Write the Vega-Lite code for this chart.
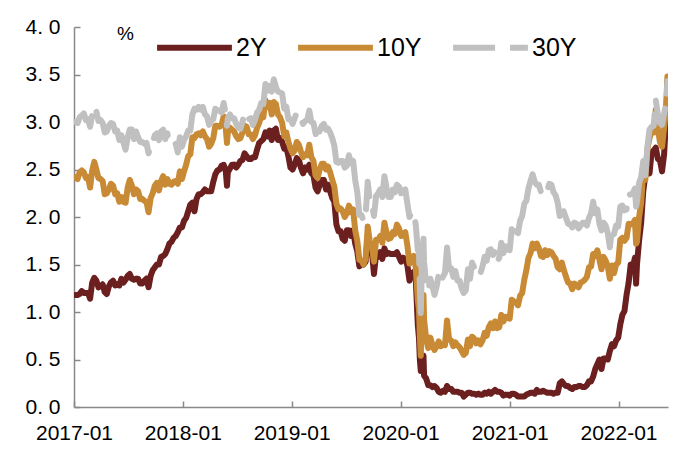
{
"$schema": "https://vega.github.io/schema/vega-lite/v6.json",
"width": 594, "height": 380,
"autosize": {"type": "none"},
"padding": {"left": 74, "top": 27, "right": 32, "bottom": 55},
"config": {"view": {"stroke": null}, "font": "Liberation Sans"},
"data": {"values": [
{"date":"2017-01-06","2Y":1.18,"10Y":2.42,"30Y":3.00},
{"date":"2017-01-13","2Y":1.18,"10Y":2.40,"30Y":2.99},
{"date":"2017-01-20","2Y":1.19,"10Y":2.47,"30Y":3.05},
{"date":"2017-01-27","2Y":1.22,"10Y":2.49,"30Y":3.07},
{"date":"2017-02-03","2Y":1.20,"10Y":2.47,"30Y":3.09},
{"date":"2017-02-10","2Y":1.20,"10Y":2.41,"30Y":3.02},
{"date":"2017-02-17","2Y":1.20,"10Y":2.42,"30Y":3.03},
{"date":"2017-02-24","2Y":1.14,"10Y":2.31,"30Y":2.95},
{"date":"2017-03-03","2Y":1.31,"10Y":2.49,"30Y":3.07},
{"date":"2017-03-10","2Y":1.36,"10Y":2.58,"30Y":3.16},
{"date":"2017-03-17","2Y":1.33,"10Y":2.50,"30Y":3.11},
{"date":"2017-03-24","2Y":1.26,"10Y":2.41,"30Y":3.01},
{"date":"2017-03-31","2Y":1.27,"10Y":2.40,"30Y":3.02},
{"date":"2017-04-07","2Y":1.29,"10Y":2.38,"30Y":2.99},
{"date":"2017-04-14","2Y":1.21,"10Y":2.24,"30Y":2.89},
{"date":"2017-04-21","2Y":1.19,"10Y":2.25,"30Y":2.90},
{"date":"2017-04-28","2Y":1.27,"10Y":2.29,"30Y":2.96},
{"date":"2017-05-05","2Y":1.31,"10Y":2.35,"30Y":2.99},
{"date":"2017-05-12","2Y":1.33,"10Y":2.33,"30Y":2.98},
{"date":"2017-05-19","2Y":1.28,"10Y":2.24,"30Y":2.90},
{"date":"2017-05-26","2Y":1.29,"10Y":2.25,"30Y":2.91},
{"date":"2017-06-02","2Y":1.28,"10Y":2.16,"30Y":2.81},
{"date":"2017-06-09","2Y":1.35,"10Y":2.21,"30Y":2.86},
{"date":"2017-06-16","2Y":1.31,"10Y":2.16,"30Y":2.78},
{"date":"2017-06-23","2Y":1.34,"10Y":2.15,"30Y":2.71},
{"date":"2017-06-30","2Y":1.38,"10Y":2.31,"30Y":2.84},
{"date":"2017-07-07","2Y":1.40,"10Y":2.39,"30Y":2.92},
{"date":"2017-07-14","2Y":1.35,"10Y":2.33,"30Y":2.92},
{"date":"2017-07-21","2Y":1.34,"10Y":2.24,"30Y":2.82},
{"date":"2017-07-28","2Y":1.35,"10Y":2.29,"30Y":2.90},
{"date":"2017-08-04","2Y":1.35,"10Y":2.27,"30Y":2.84},
{"date":"2017-08-11","2Y":1.30,"10Y":2.19,"30Y":2.79},
{"date":"2017-08-18","2Y":1.30,"10Y":2.19,"30Y":2.79},
{"date":"2017-08-25","2Y":1.33,"10Y":2.17,"30Y":2.77},
{"date":"2017-09-01","2Y":1.35,"10Y":2.16,"30Y":2.78},
{"date":"2017-09-08","2Y":1.26,"10Y":2.05,"30Y":2.67},
{"date":"2017-09-15","2Y":1.38,"10Y":2.20,"30Y":2.77},
{"date":"2017-09-22","2Y":1.44,"10Y":2.25,"30Y":2.79},
{"date":"2017-09-29","2Y":1.47,"10Y":2.33,"30Y":2.86},
{"date":"2017-10-06","2Y":1.50,"10Y":2.36,"30Y":2.88},
{"date":"2017-10-13","2Y":1.50,"10Y":2.28,"30Y":2.81},
{"date":"2017-10-20","2Y":1.58,"10Y":2.38,"30Y":2.90},
{"date":"2017-10-27","2Y":1.59,"10Y":2.43,"30Y":2.92},
{"date":"2017-11-03","2Y":1.61,"10Y":2.34,"30Y":2.82},
{"date":"2017-11-10","2Y":1.66,"10Y":2.40,"30Y":2.88},
{"date":"2017-11-17","2Y":1.72,"10Y":2.35,"30Y":2.78},
{"date":"2017-11-24","2Y":1.74,"10Y":2.34,"30Y":2.76},
{"date":"2017-12-01","2Y":1.78,"10Y":2.37,"30Y":2.76},
{"date":"2017-12-08","2Y":1.80,"10Y":2.38,"30Y":2.77},
{"date":"2017-12-15","2Y":1.84,"10Y":2.35,"30Y":2.68},
{"date":"2017-12-22","2Y":1.89,"10Y":2.48,"30Y":2.84},
{"date":"2017-12-29","2Y":1.89,"10Y":2.40,"30Y":2.74},
{"date":"2018-01-05","2Y":1.96,"10Y":2.48,"30Y":2.81},
{"date":"2018-01-12","2Y":1.99,"10Y":2.55,"30Y":2.85},
{"date":"2018-01-19","2Y":2.06,"10Y":2.64,"30Y":2.91},
{"date":"2018-01-26","2Y":2.13,"10Y":2.66,"30Y":2.91},
{"date":"2018-02-02","2Y":2.15,"10Y":2.84,"30Y":3.08},
{"date":"2018-02-09","2Y":2.06,"10Y":2.83,"30Y":3.14},
{"date":"2018-02-16","2Y":2.19,"10Y":2.87,"30Y":3.13},
{"date":"2018-02-23","2Y":2.24,"10Y":2.88,"30Y":3.16},
{"date":"2018-03-02","2Y":2.24,"10Y":2.86,"30Y":3.13},
{"date":"2018-03-09","2Y":2.26,"10Y":2.90,"30Y":3.16},
{"date":"2018-03-16","2Y":2.29,"10Y":2.85,"30Y":3.08},
{"date":"2018-03-23","2Y":2.27,"10Y":2.82,"30Y":3.06},
{"date":"2018-03-30","2Y":2.27,"10Y":2.74,"30Y":2.97},
{"date":"2018-04-06","2Y":2.27,"10Y":2.77,"30Y":3.01},
{"date":"2018-04-13","2Y":2.37,"10Y":2.83,"30Y":3.03},
{"date":"2018-04-20","2Y":2.45,"10Y":2.96,"30Y":3.14},
{"date":"2018-04-27","2Y":2.49,"10Y":2.96,"30Y":3.12},
{"date":"2018-05-04","2Y":2.50,"10Y":2.95,"30Y":3.12},
{"date":"2018-05-11","2Y":2.54,"10Y":2.97,"30Y":3.10},
{"date":"2018-05-18","2Y":2.55,"10Y":3.06,"30Y":3.20},
{"date":"2018-05-25","2Y":2.48,"10Y":2.93,"30Y":3.08},
{"date":"2018-05-29","2Y":2.33,"10Y":2.78,"30Y":2.96},
{"date":"2018-06-01","2Y":2.47,"10Y":2.89,"30Y":3.04},
{"date":"2018-06-08","2Y":2.51,"10Y":2.94,"30Y":3.08},
{"date":"2018-06-15","2Y":2.55,"10Y":2.92,"30Y":3.04},
{"date":"2018-06-22","2Y":2.55,"10Y":2.90,"30Y":3.04},
{"date":"2018-06-29","2Y":2.52,"10Y":2.85,"30Y":2.98},
{"date":"2018-07-06","2Y":2.55,"10Y":2.82,"30Y":2.94},
{"date":"2018-07-13","2Y":2.59,"10Y":2.83,"30Y":2.93},
{"date":"2018-07-20","2Y":2.60,"10Y":2.89,"30Y":3.00},
{"date":"2018-07-27","2Y":2.67,"10Y":2.96,"30Y":3.09},
{"date":"2018-08-03","2Y":2.64,"10Y":2.95,"30Y":3.09},
{"date":"2018-08-10","2Y":2.61,"10Y":2.87,"30Y":3.03},
{"date":"2018-08-17","2Y":2.61,"10Y":2.87,"30Y":3.04},
{"date":"2018-08-24","2Y":2.63,"10Y":2.82,"30Y":2.97},
{"date":"2018-08-31","2Y":2.63,"10Y":2.86,"30Y":3.02},
{"date":"2018-09-07","2Y":2.71,"10Y":2.94,"30Y":3.10},
{"date":"2018-09-14","2Y":2.78,"10Y":2.99,"30Y":3.13},
{"date":"2018-09-21","2Y":2.80,"10Y":3.07,"30Y":3.20},
{"date":"2018-09-28","2Y":2.82,"10Y":3.05,"30Y":3.19},
{"date":"2018-10-05","2Y":2.89,"10Y":3.23,"30Y":3.40},
{"date":"2018-10-12","2Y":2.85,"10Y":3.16,"30Y":3.33},
{"date":"2018-10-19","2Y":2.91,"10Y":3.20,"30Y":3.38},
{"date":"2018-10-26","2Y":2.81,"10Y":3.08,"30Y":3.32},
{"date":"2018-11-02","2Y":2.91,"10Y":3.21,"30Y":3.45},
{"date":"2018-11-09","2Y":2.93,"10Y":3.19,"30Y":3.37},
{"date":"2018-11-16","2Y":2.81,"10Y":3.08,"30Y":3.32},
{"date":"2018-11-23","2Y":2.83,"10Y":3.05,"30Y":3.31},
{"date":"2018-11-30","2Y":2.79,"10Y":2.99,"30Y":3.30},
{"date":"2018-12-07","2Y":2.72,"10Y":2.85,"30Y":3.14},
{"date":"2018-12-14","2Y":2.73,"10Y":2.89,"30Y":3.16},
{"date":"2018-12-21","2Y":2.64,"10Y":2.79,"30Y":3.03},
{"date":"2018-12-28","2Y":2.52,"10Y":2.72,"30Y":3.03},
{"date":"2019-01-04","2Y":2.50,"10Y":2.67,"30Y":2.98},
{"date":"2019-01-11","2Y":2.55,"10Y":2.70,"30Y":3.04},
{"date":"2019-01-18","2Y":2.62,"10Y":2.79,"30Y":3.10},
{"date":"2019-01-25","2Y":2.60,"10Y":2.76,"30Y":3.07},
{"date":"2019-02-01","2Y":2.52,"10Y":2.69,"30Y":3.03},
{"date":"2019-02-08","2Y":2.46,"10Y":2.63,"30Y":2.98},
{"date":"2019-02-15","2Y":2.52,"10Y":2.66,"30Y":3.01},
{"date":"2019-02-22","2Y":2.50,"10Y":2.65,"30Y":3.02},
{"date":"2019-03-01","2Y":2.55,"10Y":2.76,"30Y":3.12},
{"date":"2019-03-08","2Y":2.46,"10Y":2.63,"30Y":3.00},
{"date":"2019-03-15","2Y":2.44,"10Y":2.59,"30Y":2.99},
{"date":"2019-03-22","2Y":2.31,"10Y":2.44,"30Y":2.88},
{"date":"2019-03-29","2Y":2.27,"10Y":2.41,"30Y":2.81},
{"date":"2019-04-05","2Y":2.34,"10Y":2.50,"30Y":2.91},
{"date":"2019-04-12","2Y":2.39,"10Y":2.56,"30Y":2.96},
{"date":"2019-04-19","2Y":2.39,"10Y":2.56,"30Y":2.98},
{"date":"2019-04-26","2Y":2.29,"10Y":2.50,"30Y":2.92},
{"date":"2019-05-03","2Y":2.34,"10Y":2.53,"30Y":2.93},
{"date":"2019-05-10","2Y":2.27,"10Y":2.47,"30Y":2.89},
{"date":"2019-05-17","2Y":2.20,"10Y":2.39,"30Y":2.83},
{"date":"2019-05-24","2Y":2.16,"10Y":2.32,"30Y":2.75},
{"date":"2019-05-31","2Y":1.92,"10Y":2.14,"30Y":2.58},
{"date":"2019-06-07","2Y":1.85,"10Y":2.08,"30Y":2.57},
{"date":"2019-06-14","2Y":1.85,"10Y":2.09,"30Y":2.59},
{"date":"2019-06-21","2Y":1.77,"10Y":2.06,"30Y":2.59},
{"date":"2019-06-28","2Y":1.75,"10Y":2.00,"30Y":2.52},
{"date":"2019-07-05","2Y":1.86,"10Y":2.04,"30Y":2.54},
{"date":"2019-07-12","2Y":1.86,"10Y":2.12,"30Y":2.65},
{"date":"2019-07-19","2Y":1.80,"10Y":2.05,"30Y":2.57},
{"date":"2019-07-26","2Y":1.86,"10Y":2.08,"30Y":2.59},
{"date":"2019-08-02","2Y":1.72,"10Y":1.86,"30Y":2.39},
{"date":"2019-08-09","2Y":1.64,"10Y":1.75,"30Y":2.26},
{"date":"2019-08-16","2Y":1.48,"10Y":1.55,"30Y":2.02},
{"date":"2019-08-23","2Y":1.52,"10Y":1.54,"30Y":2.02},
{"date":"2019-08-30","2Y":1.50,"10Y":1.50,"30Y":1.96},
{"date":"2019-09-06","2Y":1.53,"10Y":1.56,"30Y":2.02},
{"date":"2019-09-13","2Y":1.80,"10Y":1.90,"30Y":2.37},
{"date":"2019-09-20","2Y":1.69,"10Y":1.74,"30Y":2.17},
{"date":"2019-09-27","2Y":1.63,"10Y":1.69,"30Y":2.13},
{"date":"2019-10-04","2Y":1.40,"10Y":1.53,"30Y":2.01},
{"date":"2019-10-11","2Y":1.61,"10Y":1.76,"30Y":2.22},
{"date":"2019-10-18","2Y":1.58,"10Y":1.76,"30Y":2.25},
{"date":"2019-10-25","2Y":1.63,"10Y":1.80,"30Y":2.29},
{"date":"2019-11-01","2Y":1.56,"10Y":1.73,"30Y":2.21},
{"date":"2019-11-08","2Y":1.67,"10Y":1.94,"30Y":2.43},
{"date":"2019-11-15","2Y":1.61,"10Y":1.84,"30Y":2.31},
{"date":"2019-11-22","2Y":1.62,"10Y":1.77,"30Y":2.21},
{"date":"2019-11-29","2Y":1.61,"10Y":1.78,"30Y":2.21},
{"date":"2019-12-06","2Y":1.61,"10Y":1.84,"30Y":2.29},
{"date":"2019-12-13","2Y":1.61,"10Y":1.82,"30Y":2.26},
{"date":"2019-12-20","2Y":1.63,"10Y":1.92,"30Y":2.34},
{"date":"2019-12-27","2Y":1.58,"10Y":1.88,"30Y":2.32},
{"date":"2020-01-03","2Y":1.53,"10Y":1.80,"30Y":2.25},
{"date":"2020-01-10","2Y":1.57,"10Y":1.82,"30Y":2.28},
{"date":"2020-01-17","2Y":1.56,"10Y":1.84,"30Y":2.29},
{"date":"2020-01-24","2Y":1.49,"10Y":1.70,"30Y":2.14},
{"date":"2020-01-31","2Y":1.33,"10Y":1.51,"30Y":2.00},
{"date":"2020-02-07","2Y":1.41,"10Y":1.58,"30Y":2.05},
{"date":"2020-02-14","2Y":1.42,"10Y":1.59,"30Y":2.04},
{"date":"2020-02-21","2Y":1.35,"10Y":1.47,"30Y":1.92},
{"date":"2020-02-28","2Y":0.86,"10Y":1.13,"30Y":1.65},
{"date":"2020-03-03","2Y":0.72,"10Y":1.02,"30Y":1.63},
{"date":"2020-03-06","2Y":0.49,"10Y":0.74,"30Y":1.25},
{"date":"2020-03-09","2Y":0.38,"10Y":0.54,"30Y":0.99},
{"date":"2020-03-13","2Y":0.49,"10Y":0.94,"30Y":1.53},
{"date":"2020-03-18","2Y":0.54,"10Y":1.18,"30Y":1.77},
{"date":"2020-03-20","2Y":0.33,"10Y":0.92,"30Y":1.53},
{"date":"2020-03-27","2Y":0.30,"10Y":0.72,"30Y":1.29},
{"date":"2020-04-03","2Y":0.23,"10Y":0.62,"30Y":1.23},
{"date":"2020-04-10","2Y":0.23,"10Y":0.73,"30Y":1.35},
{"date":"2020-04-17","2Y":0.21,"10Y":0.65,"30Y":1.27},
{"date":"2020-04-24","2Y":0.22,"10Y":0.60,"30Y":1.18},
{"date":"2020-05-01","2Y":0.20,"10Y":0.64,"30Y":1.27},
{"date":"2020-05-08","2Y":0.16,"10Y":0.69,"30Y":1.39},
{"date":"2020-05-15","2Y":0.15,"10Y":0.64,"30Y":1.31},
{"date":"2020-05-22","2Y":0.17,"10Y":0.66,"30Y":1.37},
{"date":"2020-05-29","2Y":0.16,"10Y":0.65,"30Y":1.41},
{"date":"2020-06-05","2Y":0.22,"10Y":0.91,"30Y":1.68},
{"date":"2020-06-12","2Y":0.19,"10Y":0.71,"30Y":1.45},
{"date":"2020-06-19","2Y":0.19,"10Y":0.70,"30Y":1.46},
{"date":"2020-06-26","2Y":0.16,"10Y":0.64,"30Y":1.37},
{"date":"2020-07-03","2Y":0.16,"10Y":0.68,"30Y":1.43},
{"date":"2020-07-10","2Y":0.16,"10Y":0.65,"30Y":1.33},
{"date":"2020-07-17","2Y":0.15,"10Y":0.63,"30Y":1.33},
{"date":"2020-07-24","2Y":0.15,"10Y":0.59,"30Y":1.25},
{"date":"2020-07-31","2Y":0.11,"10Y":0.55,"30Y":1.20},
{"date":"2020-08-07","2Y":0.13,"10Y":0.57,"30Y":1.23},
{"date":"2020-08-14","2Y":0.15,"10Y":0.71,"30Y":1.45},
{"date":"2020-08-21","2Y":0.15,"10Y":0.64,"30Y":1.35},
{"date":"2020-08-28","2Y":0.14,"10Y":0.74,"30Y":1.52},
{"date":"2020-09-04","2Y":0.14,"10Y":0.72,"30Y":1.47},
{"date":"2020-09-11","2Y":0.13,"10Y":0.67,"30Y":1.42},
{"date":"2020-09-18","2Y":0.14,"10Y":0.70,"30Y":1.45},
{"date":"2020-09-25","2Y":0.13,"10Y":0.66,"30Y":1.41},
{"date":"2020-10-02","2Y":0.13,"10Y":0.70,"30Y":1.48},
{"date":"2020-10-09","2Y":0.15,"10Y":0.78,"30Y":1.58},
{"date":"2020-10-16","2Y":0.14,"10Y":0.75,"30Y":1.54},
{"date":"2020-10-23","2Y":0.16,"10Y":0.84,"30Y":1.65},
{"date":"2020-10-30","2Y":0.14,"10Y":0.88,"30Y":1.66},
{"date":"2020-11-06","2Y":0.16,"10Y":0.83,"30Y":1.60},
{"date":"2020-11-13","2Y":0.18,"10Y":0.90,"30Y":1.64},
{"date":"2020-11-20","2Y":0.16,"10Y":0.83,"30Y":1.53},
{"date":"2020-11-27","2Y":0.16,"10Y":0.84,"30Y":1.57},
{"date":"2020-12-04","2Y":0.15,"10Y":0.97,"30Y":1.73},
{"date":"2020-12-11","2Y":0.12,"10Y":0.90,"30Y":1.62},
{"date":"2020-12-18","2Y":0.13,"10Y":0.95,"30Y":1.69},
{"date":"2020-12-24","2Y":0.13,"10Y":0.94,"30Y":1.66},
{"date":"2021-01-01","2Y":0.12,"10Y":0.93,"30Y":1.65},
{"date":"2021-01-08","2Y":0.14,"10Y":1.13,"30Y":1.87},
{"date":"2021-01-15","2Y":0.14,"10Y":1.11,"30Y":1.85},
{"date":"2021-01-22","2Y":0.13,"10Y":1.10,"30Y":1.85},
{"date":"2021-01-29","2Y":0.11,"10Y":1.07,"30Y":1.83},
{"date":"2021-02-05","2Y":0.11,"10Y":1.17,"30Y":1.96},
{"date":"2021-02-12","2Y":0.11,"10Y":1.20,"30Y":2.01},
{"date":"2021-02-19","2Y":0.11,"10Y":1.34,"30Y":2.14},
{"date":"2021-02-26","2Y":0.13,"10Y":1.44,"30Y":2.17},
{"date":"2021-03-05","2Y":0.14,"10Y":1.57,"30Y":2.30},
{"date":"2021-03-12","2Y":0.15,"10Y":1.62,"30Y":2.38},
{"date":"2021-03-19","2Y":0.15,"10Y":1.72,"30Y":2.45},
{"date":"2021-03-26","2Y":0.14,"10Y":1.67,"30Y":2.37},
{"date":"2021-04-02","2Y":0.18,"10Y":1.72,"30Y":2.34},
{"date":"2021-04-09","2Y":0.16,"10Y":1.67,"30Y":2.34},
{"date":"2021-04-16","2Y":0.16,"10Y":1.59,"30Y":2.26},
{"date":"2021-04-23","2Y":0.17,"10Y":1.58,"30Y":2.25},
{"date":"2021-04-30","2Y":0.16,"10Y":1.65,"30Y":2.30},
{"date":"2021-05-07","2Y":0.15,"10Y":1.60,"30Y":2.28},
{"date":"2021-05-14","2Y":0.15,"10Y":1.64,"30Y":2.35},
{"date":"2021-05-21","2Y":0.15,"10Y":1.63,"30Y":2.34},
{"date":"2021-05-28","2Y":0.14,"10Y":1.59,"30Y":2.26},
{"date":"2021-06-04","2Y":0.15,"10Y":1.56,"30Y":2.23},
{"date":"2021-06-11","2Y":0.15,"10Y":1.47,"30Y":2.15},
{"date":"2021-06-18","2Y":0.25,"10Y":1.45,"30Y":2.01},
{"date":"2021-06-25","2Y":0.27,"10Y":1.52,"30Y":2.13},
{"date":"2021-07-02","2Y":0.24,"10Y":1.44,"30Y":2.05},
{"date":"2021-07-09","2Y":0.22,"10Y":1.37,"30Y":1.99},
{"date":"2021-07-16","2Y":0.22,"10Y":1.31,"30Y":1.93},
{"date":"2021-07-23","2Y":0.20,"10Y":1.30,"30Y":1.92},
{"date":"2021-07-30","2Y":0.19,"10Y":1.24,"30Y":1.89},
{"date":"2021-08-06","2Y":0.21,"10Y":1.30,"30Y":1.94},
{"date":"2021-08-13","2Y":0.21,"10Y":1.28,"30Y":1.93},
{"date":"2021-08-20","2Y":0.22,"10Y":1.26,"30Y":1.88},
{"date":"2021-08-27","2Y":0.22,"10Y":1.31,"30Y":1.91},
{"date":"2021-09-03","2Y":0.21,"10Y":1.32,"30Y":1.94},
{"date":"2021-09-10","2Y":0.21,"10Y":1.34,"30Y":1.94},
{"date":"2021-09-17","2Y":0.23,"10Y":1.37,"30Y":1.91},
{"date":"2021-09-24","2Y":0.27,"10Y":1.47,"30Y":1.99},
{"date":"2021-10-01","2Y":0.27,"10Y":1.48,"30Y":2.04},
{"date":"2021-10-08","2Y":0.32,"10Y":1.61,"30Y":2.16},
{"date":"2021-10-15","2Y":0.40,"10Y":1.59,"30Y":2.04},
{"date":"2021-10-22","2Y":0.45,"10Y":1.65,"30Y":2.08},
{"date":"2021-10-29","2Y":0.50,"10Y":1.55,"30Y":1.93},
{"date":"2021-11-05","2Y":0.40,"10Y":1.45,"30Y":1.86},
{"date":"2021-11-12","2Y":0.51,"10Y":1.58,"30Y":1.94},
{"date":"2021-11-19","2Y":0.51,"10Y":1.54,"30Y":1.91},
{"date":"2021-11-26","2Y":0.50,"10Y":1.48,"30Y":1.83},
{"date":"2021-12-03","2Y":0.59,"10Y":1.35,"30Y":1.68},
{"date":"2021-12-10","2Y":0.66,"10Y":1.49,"30Y":1.88},
{"date":"2021-12-17","2Y":0.64,"10Y":1.41,"30Y":1.82},
{"date":"2021-12-24","2Y":0.70,"10Y":1.50,"30Y":1.91},
{"date":"2021-12-31","2Y":0.73,"10Y":1.52,"30Y":1.90},
{"date":"2022-01-07","2Y":0.87,"10Y":1.76,"30Y":2.11},
{"date":"2022-01-14","2Y":0.97,"10Y":1.78,"30Y":2.12},
{"date":"2022-01-21","2Y":1.01,"10Y":1.75,"30Y":2.07},
{"date":"2022-01-28","2Y":1.18,"10Y":1.78,"30Y":2.08},
{"date":"2022-02-04","2Y":1.31,"10Y":1.93,"30Y":2.23},
{"date":"2022-02-11","2Y":1.50,"10Y":1.92,"30Y":2.24},
{"date":"2022-02-18","2Y":1.47,"10Y":1.93,"30Y":2.25},
{"date":"2022-02-25","2Y":1.57,"10Y":1.97,"30Y":2.30},
{"date":"2022-03-01","2Y":1.30,"10Y":1.72,"30Y":2.11},
{"date":"2022-03-04","2Y":1.50,"10Y":1.74,"30Y":2.16},
{"date":"2022-03-11","2Y":1.75,"10Y":2.00,"30Y":2.36},
{"date":"2022-03-18","2Y":1.94,"10Y":2.15,"30Y":2.42},
{"date":"2022-03-25","2Y":2.27,"10Y":2.48,"30Y":2.59},
{"date":"2022-04-01","2Y":2.44,"10Y":2.39,"30Y":2.44},
{"date":"2022-04-08","2Y":2.53,"10Y":2.72,"30Y":2.74},
{"date":"2022-04-15","2Y":2.46,"10Y":2.83,"30Y":2.92},
{"date":"2022-04-22","2Y":2.68,"10Y":2.90,"30Y":2.95},
{"date":"2022-04-29","2Y":2.70,"10Y":2.89,"30Y":2.96},
{"date":"2022-05-06","2Y":2.73,"10Y":3.13,"30Y":3.23},
{"date":"2022-05-13","2Y":2.61,"10Y":2.93,"30Y":3.08},
{"date":"2022-05-20","2Y":2.60,"10Y":2.79,"30Y":2.99},
{"date":"2022-05-27","2Y":2.48,"10Y":2.74,"30Y":2.97},
{"date":"2022-06-03","2Y":2.66,"10Y":2.94,"30Y":3.09},
{"date":"2022-06-10","2Y":3.06,"10Y":3.15,"30Y":3.20},
{"date":"2022-06-14","2Y":3.43,"10Y":3.48,"30Y":3.43},
{"date":"2022-06-16","2Y":3.15,"10Y":3.28,"30Y":3.30}
]},
"transform": [{"fold": ["2Y", "10Y", "30Y"], "as": ["series", "value"]}],
"mark": {"type": "line", "strokeWidth": 6, "strokeCap": "round", "strokeJoin": "round", "clip": true},
"encoding": {
  "x": {"field": "date", "type": "temporal",
    "scale": {"domain": [{"year": 2017, "month": 1, "date": 1}, {"year": 2022, "month": 6, "date": 16}]},
    "axis": {"title": null, "grid": false, "format": "%Y-%m",
      "values": [{"year": 2017, "month": 1, "date": 1}, {"year": 2018, "month": 1, "date": 1}, {"year": 2019, "month": 1, "date": 1}, {"year": 2020, "month": 1, "date": 1}, {"year": 2021, "month": 1, "date": 1}, {"year": 2022, "month": 1, "date": 1}],
      "labelFontSize": 21, "labelColor": "#000000", "labelFlush": false, "labelOverlap": false,
      "tickSize": -6, "labelPadding": 21, "tickColor": "#898989", "domainColor": "#898989", "domainWidth": 1.5, "tickWidth": 1.5}},
  "y": {"field": "value", "type": "quantitative",
    "scale": {"domain": [0, 4]},
    "axis": {"grid": false, "values": [0, 0.5, 1, 1.5, 2, 2.5, 3, 3.5, 4],
      "labelExpr": "replace(format(datum.value, '.1f'), '.', '. ')",
      "labelFontSize": 21, "labelColor": "#000000", "labelFlush": false,
      "tickSize": -6, "labelPadding": 20, "tickColor": "#898989", "domainColor": "#898989", "domainWidth": 1.5, "tickWidth": 1.5,
      "title": "%", "titleAngle": 0, "titleX": 51, "titleY": 6, "titleFontSize": 19, "titleFontWeight": "normal",
      "titleAlign": "center", "titleBaseline": "middle", "titleColor": "#000000"}},
  "color": {"field": "series", "type": "nominal",
    "scale": {"domain": ["2Y", "10Y", "30Y"], "range": ["#6B1F1F", "#C98A35", "#C0C0C0"]},
    "legend": {"orient": "none", "legendX": 80, "legendY": -20, "direction": "horizontal", "title": null,
      "symbolType": "stroke", "symbolSize": 5600, "symbolStrokeWidth": 6, "labelFontSize": 25, "labelColor": "#000000",
      "columnPadding": 19, "labelOffset": 1, "padding": 0}},
  "strokeDash": {"field": "series", "type": "nominal",
    "scale": {"domain": ["2Y", "10Y", "30Y"], "range": [[1, 0], [1, 0], [42, 15, 150, 15]]},
    "legend": {"orient": "none", "legendX": 80, "legendY": -20, "direction": "horizontal", "title": null,
      "symbolType": "stroke", "symbolSize": 5600, "symbolStrokeWidth": 6, "labelFontSize": 25, "labelColor": "#000000",
      "columnPadding": 19, "labelOffset": 1, "padding": 0}}
}
}
